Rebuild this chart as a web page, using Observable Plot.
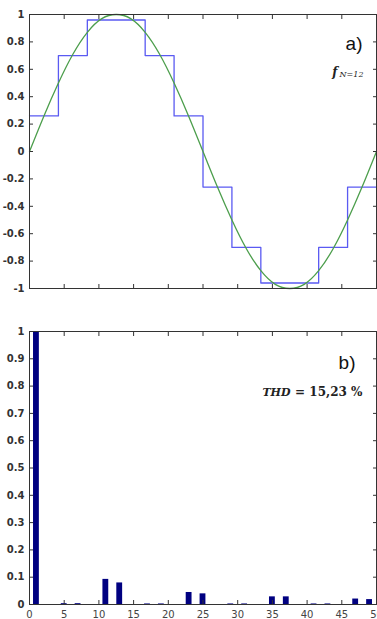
<!DOCTYPE html>
<html>
<head>
<meta charset="utf-8">
<script src="https://cdn.jsdelivr.net/npm/d3@7"></script>
<script src="https://cdn.jsdelivr.net/npm/@observablehq/plot@0.6"></script>
<style>
  html, body { margin: 0; padding: 0; background: #fff; }
  #wrap { width: 377px; }
  #wrap svg { display: block; }
</style>
</head>
<body>
<div id="wrap"></div>
<script>
// ---- panel a) : staircase (12 steps) and reference sine, phase in degrees
const sinePhase = [0,15,30,45,60,75,90,105,120,135,150,165,180,195,210,225,240,255,270,285,300,315,330,345,360];
const sineValue = [0,0.26,0.5,0.71,0.87,0.97,1,0.97,0.87,0.71,0.5,0.26,0,-0.26,-0.5,-0.71,-0.87,-0.97,-1,-0.97,-0.87,-0.71,-0.5,-0.26,0];
const stepPhase = [0,30,60,90,120,150,180,210,240,270,300,330,360];
const stepValue = [0.26,0.70,0.96,0.96,0.70,0.26,-0.26,-0.70,-0.96,-0.96,-0.70,-0.26,-0.26];
const aXTicks = [0,36,72,108,144,180,216,252,288,324,360];
const aYTicks = [-1,-0.8,-0.6,-0.4,-0.2,0,0.2,0.4,0.6,0.8,1];

// ---- panel b) : harmonic spectrum
const harmonics = [1,5,7,11,13,17,19,23,25,29,31,35,37,41,43,47,49];
const magnitudes = [1.0,0.003,0.003,0.092,0.079,0.002,0.002,0.044,0.039,0.002,0.002,0.028,0.028,0.002,0.002,0.020,0.018];
const bXTicks = [0,5,10,15,20,25,30,35,40,45,50];
const bYTicks = [0,0.1,0.2,0.3,0.4,0.5,0.6,0.7,0.8,0.9,1];

const sineData = sinePhase.map((p, i) => ({p, v: sineValue[i]}));
const stepData = stepPhase.map((p, i) => ({p, v: stepValue[i]}));
const barData = harmonics.map((h, i) => ({h, v: magnitudes[i]}));

const fmt = d => String(d);
const tickFont = {fontFamily: "DejaVu Sans", fontSize: 10};

function boxAxes(xTicks, yTicks, xLabels, yLabels) {
  return [
    Plot.axisY(yTicks, {anchor: "left", tickSize: 4, dx: 4, tickPadding: 5,
      tickFormat: yLabels ? fmt : () => "", fill: "#333", stroke: "#333", fontWeight: "bold", label: null}),
    Plot.axisY(yTicks, {anchor: "right", tickSize: 4, dx: -4, tickFormat: () => "", stroke: "#333", label: null}),
    Plot.axisX(xTicks, {anchor: "bottom", tickSize: 4, dy: -4, tickPadding: 6,
      tickFormat: xLabels ? fmt : () => "", fill: "#444", stroke: "#333", label: null}),
    Plot.axisX(xTicks, {anchor: "top", tickSize: 4, dy: 4, tickFormat: () => "", stroke: "#333", label: null}),
    Plot.frame({stroke: "#333", strokeWidth: 1})
  ];
}

const plotA = Plot.plot({
  width: 377, height: 310,
  marginTop: 14, marginBottom: 22, marginLeft: 29, marginRight: 1,
  style: {background: "#fff", ...tickFont},
  x: {domain: [0, 360], label: null},
  y: {domain: [-1, 1], label: null},
  marks: [
    Plot.line(stepData, {x: "p", y: "v", curve: "step-after", stroke: "#5a5af2", strokeWidth: 1.3}),
    Plot.line(sineData, {x: "p", y: "v", curve: "natural", stroke: "#4c9e4c", strokeWidth: 1.3}),
    ...boxAxes(aXTicks, aYTicks, false, true),
    Plot.text(["a)"], {frameAnchor: "top-right", dx: -14, dy: 29, textAnchor: "end", lineAnchor: "middle",
      fontFamily: "Liberation Sans", fontSize: 19, fill: "#111"}),
    Plot.text(["f"], {frameAnchor: "top-right", dx: -39, dy: 58, textAnchor: "end", lineAnchor: "middle",
      fontFamily: "DejaVu Serif", fontStyle: "italic", fontWeight: "bold", fontSize: 12, fill: "#222"}),
    Plot.text(["N=12"], {frameAnchor: "top-right", dx: -13, dy: 60, textAnchor: "end", lineAnchor: "middle",
      fontFamily: "DejaVu Serif", fontStyle: "italic", fontSize: 8, fill: "#222"})
  ]
});

const plotB = Plot.plot({
  width: 377, height: 309,
  marginTop: 21, marginBottom: 15, marginLeft: 29, marginRight: 1,
  style: {background: "#fff", ...tickFont},
  x: {domain: [0, 50], label: null},
  y: {domain: [0, 1], label: null},
  marks: [
    Plot.rect(barData, {x1: d => d.h - 0.42, x2: d => d.h + 0.42, y1: 0, y2: "v", fill: "#000080"}),
    ...boxAxes(bXTicks, bYTicks, true, true),
    Plot.text(["b)"], {frameAnchor: "top-right", dx: -21, dy: 31, textAnchor: "end", lineAnchor: "middle",
      fontFamily: "Liberation Sans", fontSize: 19, fill: "#111"}),
    Plot.text(["= 15,23 %"], {frameAnchor: "top-right", dx: -14, dy: 61, textAnchor: "end", lineAnchor: "middle",
      fontFamily: "DejaVu Serif", fontWeight: "bold", fontSize: 12, fill: "#222"}),
    Plot.text(["THD"], {frameAnchor: "top-right", dx: -86, dy: 61, textAnchor: "end", lineAnchor: "middle",
      fontFamily: "DejaVu Serif", fontStyle: "italic", fontWeight: "bold", fontSize: 11, fill: "#222"})
  ]
});

document.getElementById("wrap").append(plotA, plotB);
</script>
</body>
</html>
